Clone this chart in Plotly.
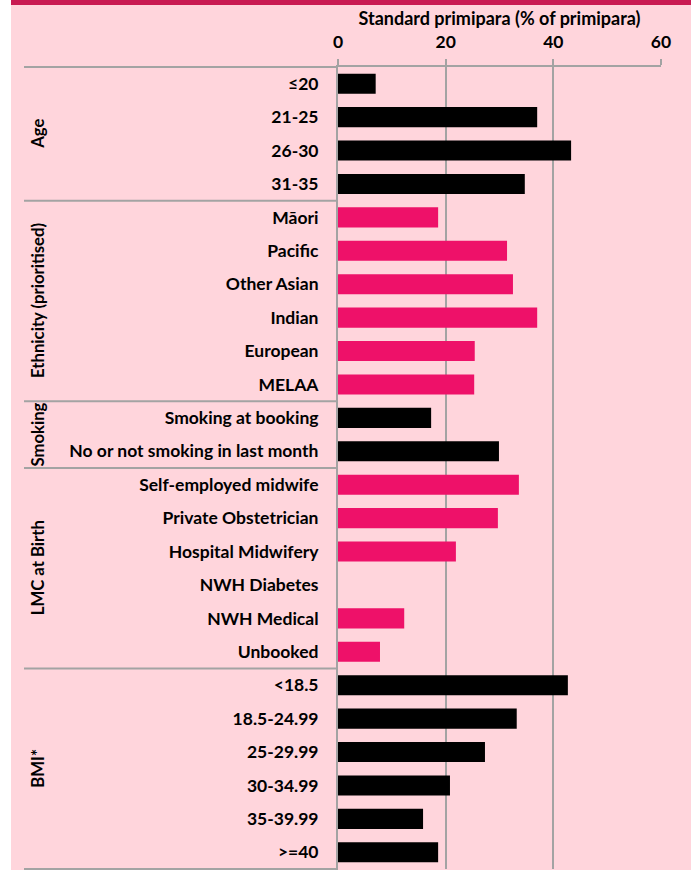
import plotly.graph_objects as go

categories = ["≤20", "21-25", "26-30", "31-35",
              "Māori", "Pacific", "Other Asian", "Indian", "European", "MELAA",
              "Smoking at booking", "No or not smoking in last month",
              "Self-employed midwife", "Private Obstetrician", "Hospital Midwifery",
              "NWH Diabetes", "NWH Medical", "Unbooked",
              "<18.5", "18.5-24.99", "25-29.99", "30-34.99", "35-39.99", ">=40"]
values = [7.0, 37.0, 43.3, 34.7,
          18.6, 31.4, 32.5, 37.0, 25.4, 25.3,
          17.3, 29.9,
          33.6, 29.7, 21.9, None, 12.3, 7.8,
          42.7, 33.2, 27.3, 20.8, 15.8, 18.6]
group_names = ["Age", "Ethnicity (prioritised)", "Smoking", "LMC at Birth", "BMI*"]
group_sizes = [4, 6, 2, 6, 6]
group_colors = ["#000000", "#EE1169", "#000000", "#EE1169", "#000000"]
x_ticks = [0, 20, 40, 60]
x_title = "Standard primipara (% of primipara)"

W, H = 691, 870
PINK_BG = "#FFD5DC"
GRID = "#A3A3A3"
FONT = "Lato"
FS = 17.5

bar_colors = []
for c, n in zip(group_colors, group_sizes):
    bar_colors += [c] * n

fig = go.Figure(go.Bar(
    y=categories, x=values, orientation="h",
    marker=dict(color=bar_colors, line=dict(width=0)),
    hoverinfo="skip",
))

x0_px, x1_px = 338, 661
ytop_px, ybot_px = 67, 869

def px(xp):
    return xp / W

def py(yp):
    return 1 - yp / H

shapes = [
    dict(type="rect", xref="paper", yref="paper", x0=0, x1=px(11), y0=0, y1=1,
         fillcolor="white", line=dict(width=0), layer="below"),
    dict(type="rect", xref="paper", yref="paper", x0=px(11), x1=1, y0=py(5), y1=1,
         fillcolor="#C91A52", line=dict(width=0), layer="below"),
    dict(type="line", xref="paper", yref="paper", x0=px(24), x1=px(x0_px),
         y0=py(ytop_px), y1=py(ytop_px), line=dict(color=GRID, width=2)),
    dict(type="line", xref="paper", yref="paper", x0=px(24), x1=px(x0_px),
         y0=py(ybot_px), y1=py(ybot_px), line=dict(color=GRID, width=2)),
]
annotations = []
start = 0
for name, n in zip(group_names, group_sizes):
    end = start + n
    if end < len(categories):
        shapes.append(dict(type="line", xref="paper", yref="y",
                           x0=px(24), x1=px(x0_px), y0=end - 0.5, y1=end - 0.5,
                           line=dict(color=GRID, width=2)))
    annotations.append(dict(text="<b>%s</b>" % name, xref="paper", yref="y",
                            x=px(38), y=(start + end - 1) / 2, textangle=-90,
                            showarrow=False, xanchor="center", yanchor="middle",
                            font=dict(family=FONT, size=16.7, color="#000000")))
    start = end

fig.update_layout(
    width=W, height=H,
    margin=dict(l=0, r=0, t=0, b=0, autoexpand=False),
    paper_bgcolor=PINK_BG, plot_bgcolor=PINK_BG,
    showlegend=False,
    bargap=0.4,
    font=dict(family=FONT, size=FS, color="#000000"),
    shapes=shapes, annotations=annotations,
    xaxis=dict(
        domain=[px(x0_px), px(x1_px)], side="top", range=[0, 60],
        tickvals=x_ticks, ticktext=["<b>%d</b>" % v for v in x_ticks],
        ticks="outside", ticklen=6, tickcolor=GRID, tickwidth=2,
        ticklabelstandoff=4,
        showline=True, linecolor=GRID, linewidth=2, mirror=False,
        showgrid=True, gridcolor=GRID, gridwidth=2, zeroline=False,
        tickfont=dict(family=FONT, size=FS),
        title=dict(text="<b>%s</b>" % x_title, standoff=1,
                   font=dict(family=FONT, size=18)),
        automargin=False, fixedrange=True,
    ),
    yaxis=dict(
        domain=[py(ybot_px), py(ytop_px)],
        autorange="reversed", type="category",
        tickvals=categories, ticktext=["<b>%s</b>" % c for c in categories],
        ticks="", ticklabelstandoff=14,
        showline=True, linecolor=GRID, linewidth=2,
        showgrid=False, zeroline=False,
        tickfont=dict(family=FONT, size=FS),
        automargin=False, fixedrange=True,
    ),
)

fig.write_html("out.html", config={"displayModeBar": False},
               post_script="document.body.style.margin='0';document.body.style.overflow='hidden';")
